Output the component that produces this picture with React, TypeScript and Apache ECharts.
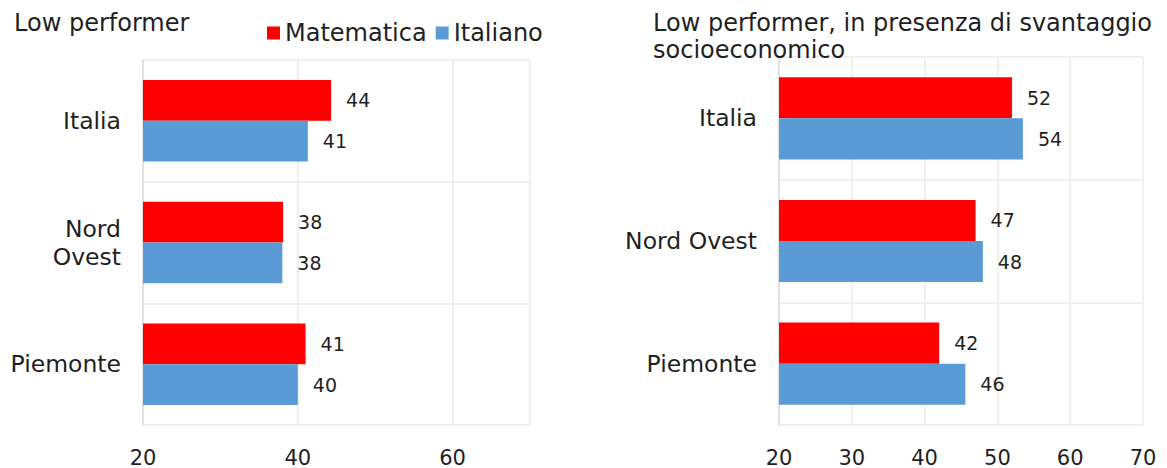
import React, { useEffect, useRef } from "react";
import * as echarts from "echarts";

const categoriesLeft = ["Italia", "Nord\nOvest", "Piemonte"];
const categoriesRight = ["Italia", "Nord Ovest", "Piemonte"];
const seriesNames = ["Matematica", "Italiano"];
const leftMatematica = [44.3, 38.1, 41.0];
const leftItaliano = [41.3, 38.0, 40.0];
const rightMatematica = [52.0, 47.0, 42.0];
const rightItaliano = [53.5, 48.0, 45.6];
const titleLeft = "Low performer";
const titleRight = "Low performer, in presenza di svantaggio\nsocioeconomico";

const RED = "#FF0000";
const BLUE = "#5B9BD5";
const TEXT = "#1f1f1f";
const GRID = "#ebebeb";
const FONT = "DejaVu Sans";

export default function App() {
  const ref = useRef<HTMLDivElement>(null);
  useEffect(() => {
    if (!ref.current) return;
    const chart = echarts.init(ref.current, null, { renderer: "svg" });
    const labelCfg = {
      show: true,
      position: "right",
      distance: 15,
      color: TEXT,
      fontFamily: FONT,
      fontSize: 19,
      formatter: (p: any) => String(Math.round(p.value)),
    };
    const xAxisBase = (gridIndex: number, interval: number) => ({
      type: "value",
      gridIndex,
      min: 20,
      max: 70,
      interval,
      axisLine: { show: false },
      axisTick: { show: false },
      splitLine: { show: true, lineStyle: { color: GRID, width: 1.5 } },
      axisLabel: {
        color: TEXT,
        fontFamily: FONT,
        fontSize: 21,
        margin: 22,
        showMaxLabel: gridIndex === 1,
      },
    });
    const yAxisBase = (gridIndex: number, data: string[]) => ({
      type: "category",
      gridIndex,
      data,
      inverse: true,
      axisLine: { show: true, lineStyle: { color: "#dcdcdc", width: 1.5 } },
      axisTick: { show: false },
      splitLine: { show: true, lineStyle: { color: GRID, width: 1.5 } },
      axisLabel: {
        color: TEXT,
        fontFamily: FONT,
        fontSize: 23.5,
        margin: 22,
        lineHeight: 28,
        align: "right",
      },
    });
    chart.setOption({
      animation: false,
      backgroundColor: "#ffffff",
      title: [
        {
          text: titleLeft,
          left: 9,
          top: 6,
          textStyle: { color: TEXT, fontFamily: FONT, fontSize: 24, fontWeight: "normal", lineHeight: 24 },
        },
        {
          text: titleRight,
          left: 648,
          top: 4,
          textStyle: {
            color: TEXT,
            fontFamily: FONT,
            fontSize: 24,
            fontWeight: "normal",
            lineHeight: 27,
          },
        },
      ],
      legend: {
        data: seriesNames,
        left: 262,
        top: 16,
        itemWidth: 13,
        itemHeight: 13,
        itemGap: 9,
        icon: "rect",
        textStyle: { color: TEXT, fontFamily: FONT, fontSize: 24, lineHeight: 24 },
      },
      grid: [
        { left: 143, right: 637, top: 60, bottom: 41 },
        { left: 779, right: 24, top: 57, bottom: 42 },
      ],
      xAxis: [xAxisBase(0, 20), xAxisBase(1, 10)],
      yAxis: [yAxisBase(0, categoriesLeft), yAxisBase(1, categoriesRight)],
      series: [
        {
          name: seriesNames[0],
          type: "bar",
          xAxisIndex: 0,
          yAxisIndex: 0,
          data: leftMatematica,
          itemStyle: { color: RED },
          barGap: "0%",
          barCategoryGap: "33%",
          label: labelCfg,
        },
        {
          name: seriesNames[1],
          type: "bar",
          xAxisIndex: 0,
          yAxisIndex: 0,
          data: leftItaliano,
          itemStyle: { color: BLUE },
          barGap: "0%",
          barCategoryGap: "33%",
          label: labelCfg,
        },
        {
          name: seriesNames[0],
          type: "bar",
          xAxisIndex: 1,
          yAxisIndex: 1,
          data: rightMatematica,
          itemStyle: { color: RED },
          barGap: "0%",
          barCategoryGap: "33%",
          label: labelCfg,
        },
        {
          name: seriesNames[1],
          type: "bar",
          xAxisIndex: 1,
          yAxisIndex: 1,
          data: rightItaliano,
          itemStyle: { color: BLUE },
          barGap: "0%",
          barCategoryGap: "33%",
          label: labelCfg,
        },
      ],
    });
    return () => chart.dispose();
  }, []);
  return (
    <div
      ref={ref}
      style={{ position: "fixed", left: 0, top: 0, width: 1167, height: 468, background: "#fff" }}
    />
  );
}
